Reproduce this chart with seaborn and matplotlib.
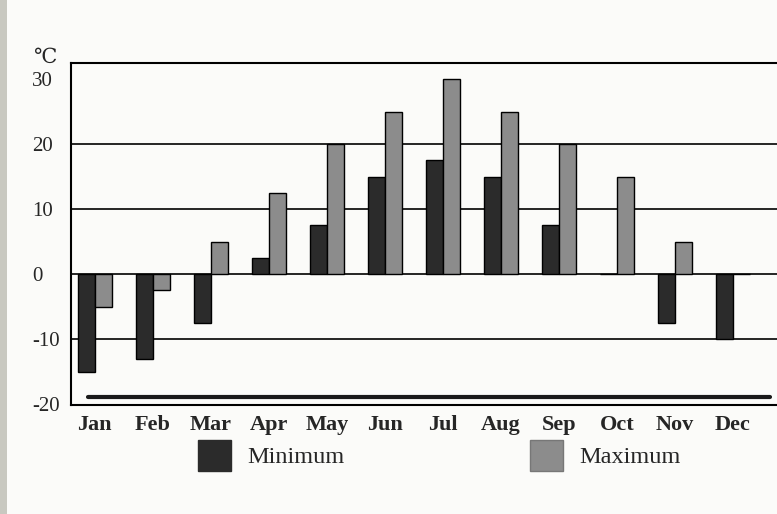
import numpy as np
import pandas as pd
import matplotlib
matplotlib.use("Agg")
import matplotlib.pyplot as plt
from matplotlib.patches import Patch, Rectangle
import seaborn as sns

months = ["Jan", "Feb", "Mar", "Apr", "May", "Jun", "Jul", "Aug", "Sep", "Oct", "Nov", "Dec"]
t_min = [-15, -13, -7.5, 2.5, 7.5, 15, 17.5, 15, 7.5, 0, -7.5, -10]
t_max = [-5, -2.5, 5, 12.5, 20, 25, 30, 25, 20, 15, 5, 0]
y_ticks = [30, 20, 10, 0, -10, -20]
grid_at = [20, 10, 0, -10]

df = pd.DataFrame({
    "month": months * 2,
    "temp": t_min + t_max,
    "kind": ["Minimum"] * 12 + ["Maximum"] * 12,
})

sns.set_style("white")
serif = ["Liberation Serif", "DejaVu Serif"]
plt.rcParams["font.family"] = serif

dark = "#2b2b2b"
grey = "#8c8c8c"
paper = "#fbfbf9"

fig = plt.figure(figsize=(7.77, 5.14), dpi=100, facecolor=paper)
ax = fig.add_axes([71 / 777, 1 - 405 / 514, 1 - 71 / 777, (405 - 63) / 514])
ax.set_facecolor(paper)

# lines behind the bars
for g in grid_at:
    ax.axhline(g, color="black", lw=1.2, zorder=0.5)
ax.axhline(-18.9, xmin=0.024, xmax=0.99, color="#1a1a1a", lw=3, zorder=0.5)

sns.barplot(data=df, x="month", y="temp", hue="kind",
            palette={"Minimum": dark, "Maximum": grey},
            width=0.58, edgecolor="black", linewidth=1.0,
            legend=False, ax=ax, zorder=2)

ax.set_xlim(-0.41, 11.76)
ax.set_ylim(-20.15, 32.5)
ax.set_xlabel("")
ax.set_ylabel("")

ax.set_yticks(y_ticks)
ax.set_yticklabels([str(v) for v in y_ticks], fontsize=15, ha="left")
ax.tick_params(axis="y", length=0, pad=28)
ax.tick_params(axis="x", length=0, pad=7)
for lab in ax.get_xticklabels():
    lab.set_fontsize(16)
    lab.set_fontweight("bold")

for s in ["left", "top", "bottom"]:
    ax.spines[s].set_color("black")
    ax.spines[s].set_linewidth(1.5)
ax.spines["right"].set_visible(False)

fig.text(33 / 777, 1 - 58 / 514, "℃", fontsize=15, va="center", ha="left")

handles = [Patch(facecolor=dark, edgecolor=dark, label="Minimum"),
           Patch(facecolor=grey, edgecolor="#777777", label="Maximum")]
fig.legend(handles=handles, loc="upper left", ncol=2,
           bbox_to_anchor=(198 / 777, 1 - 440 / 514),
           frameon=False, fontsize=17.5, borderpad=0, borderaxespad=0,
           handlelength=1.36, handleheight=1.56, handletextpad=0.66,
           columnspacing=7.65)

# grey strip at the left edge of the scan
fig.patches.append(Rectangle((0, 0), 7 / 777, 1, transform=fig.transFigure,
                             facecolor="#c8c8c0", edgecolor="none"))

fig.savefig("out.png", dpi=100, facecolor=paper)
